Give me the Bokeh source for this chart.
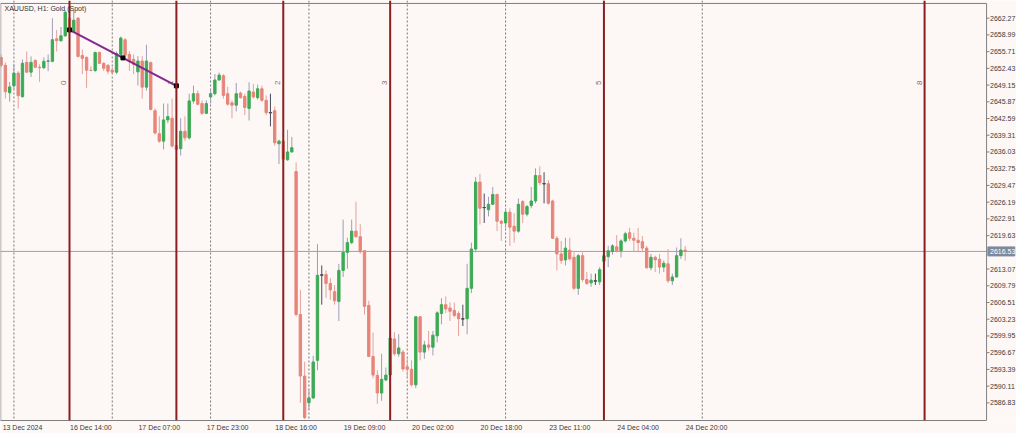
import math
from bokeh.plotting import figure
from bokeh.models import Range1d, FixedTicker, Span, Label, ColumnDataSource
from bokeh.core.properties import value
from bokeh.embed import file_html
from bokeh.resources import INLINE

# ---------------- data (XAUUSD H1, bar index 0 = 13 Dec 2024 21:00) ----------------
opens = [
    2654.58, 2653.04, 2647.65, 2649.00, 2651.50, 2646.88, 2653.61, 2651.69, 2654.00, 2652.65,
    2652.55, 2653.81, 2653.81, 2658.23, 2657.85, 2658.81, 2662.28, 2659.58, 2662.28, 2654.96,
    2654.58, 2652.07, 2652.01, 2655.54, 2653.42, 2653.04, 2652.07, 2651.69, 2655.16, 2658.04,
    2655.16, 2654.19, 2651.75, 2653.87, 2648.75, 2653.56, 2644.13, 2639.62, 2638.16, 2642.32,
    2642.65, 2637.26, 2636.68, 2640.09, 2638.80, 2646.05, 2647.46, 2645.53, 2643.61, 2646.82,
    2647.46, 2650.15, 2650.98, 2647.46, 2645.67, 2645.21, 2647.59, 2646.94, 2644.57, 2647.78,
    2646.69, 2648.42, 2646.17, 2643.74, 2644.13, 2637.64, 2638.16, 2634.50, 2636.04, 2632.19,
    2604.16, 2592.09, 2586.83, 2587.79, 2595.17, 2611.90, 2611.99, 2610.25, 2608.64, 2606.72,
    2612.81, 2616.34, 2618.26, 2620.51, 2619.42, 2616.66, 2605.94, 2595.94, 2592.22, 2588.76,
    2591.32, 2592.28, 2599.34, 2596.45, 2596.78, 2593.89, 2593.43, 2590.36, 2603.71, 2596.78,
    2598.19, 2597.74, 2599.98, 2604.35, 2606.08, 2605.44, 2604.98, 2604.35, 2603.30, 2603.33,
    2609.29, 2617.00, 2630.13, 2625.13, 2624.69, 2625.77, 2627.69, 2622.44, 2622.11, 2624.23,
    2621.47, 2620.51, 2626.29, 2623.84, 2625.52, 2626.42, 2631.42, 2629.81, 2629.81, 2626.42,
    2619.11, 2616.03, 2614.87, 2616.80, 2615.38, 2609.29, 2615.70, 2611.02, 2610.37, 2610.74,
    2610.56, 2614.60, 2615.51, 2616.53, 2617.43, 2616.66, 2618.59, 2620.19, 2619.11, 2618.72,
    2618.45, 2617.18, 2613.33, 2615.38, 2614.99, 2613.45, 2614.10, 2610.76, 2611.52, 2615.70,
    2616.80,
]
highs = [
    2655.16, 2653.61, 2649.77, 2653.23, 2651.88, 2654.19, 2655.73, 2654.77, 2654.19, 2653.23,
    2654.58, 2655.16, 2662.28, 2659.97, 2660.54, 2663.81, 2664.78, 2663.81, 2662.47, 2656.12,
    2654.77, 2652.85, 2655.73, 2655.73, 2653.61, 2653.23, 2652.65, 2655.73, 2658.68, 2658.37,
    2655.79, 2655.16, 2654.83, 2654.83, 2657.08, 2653.75, 2644.57, 2643.03, 2645.53, 2645.53,
    2646.49, 2642.65, 2642.65, 2643.03, 2647.46, 2649.05, 2648.09, 2646.17, 2646.17, 2648.42,
    2651.30, 2651.63, 2651.30, 2648.80, 2646.17, 2649.57, 2647.84, 2647.46, 2649.71, 2649.38,
    2649.25, 2649.05, 2647.13, 2647.46, 2644.95, 2638.47, 2638.47, 2640.39, 2638.99, 2633.98,
    2608.97, 2594.91, 2589.39, 2596.07, 2617.95, 2613.78, 2612.81, 2611.27, 2609.93, 2614.10,
    2622.76, 2619.22, 2622.76, 2626.29, 2621.86, 2616.80, 2606.85, 2600.63, 2593.24, 2596.45,
    2593.76, 2603.19, 2600.69, 2600.30, 2597.22, 2595.49, 2595.17, 2603.83, 2603.83, 2599.01,
    2600.94, 2600.94, 2604.79, 2607.37, 2607.68, 2606.52, 2606.52, 2604.79, 2606.08, 2614.10,
    2618.26, 2631.10, 2631.73, 2627.88, 2627.25, 2629.17, 2627.88, 2622.76, 2624.99, 2624.99,
    2624.04, 2626.92, 2626.61, 2625.65, 2629.17, 2632.83, 2633.21, 2632.06, 2630.52, 2626.67,
    2619.55, 2618.59, 2619.22, 2619.22, 2616.34, 2616.03, 2616.34, 2612.49, 2612.18, 2612.18,
    2613.45, 2616.66, 2617.62, 2617.95, 2619.74, 2618.91, 2620.38, 2621.15, 2620.19, 2621.15,
    2619.55, 2617.62, 2616.03, 2615.70, 2616.03, 2614.74, 2617.00, 2612.18, 2617.30, 2619.11,
    2617.62,
]
lows = [
    2652.65, 2646.49, 2645.92, 2648.42, 2644.57, 2646.70, 2651.50, 2650.73, 2652.46, 2649.77,
    2652.27, 2651.88, 2653.61, 2655.73, 2657.66, 2658.62, 2659.58, 2659.39, 2654.58, 2651.30,
    2648.61, 2651.88, 2651.69, 2653.23, 2651.88, 2651.30, 2651.30, 2651.30, 2654.83, 2654.52,
    2651.94, 2651.30, 2649.05, 2646.49, 2648.09, 2644.24, 2639.43, 2637.84, 2636.54, 2641.68,
    2636.87, 2635.33, 2635.33, 2638.22, 2638.47, 2645.53, 2645.21, 2643.28, 2643.47, 2645.53,
    2647.13, 2650.02, 2646.49, 2645.15, 2642.65, 2643.99, 2646.49, 2643.28, 2642.20, 2646.49,
    2646.30, 2645.86, 2643.28, 2641.05, 2637.26, 2633.66, 2633.98, 2634.31, 2635.91, 2603.77,
    2586.83, 2583.62, 2585.54, 2587.60, 2593.24, 2606.08, 2607.43, 2607.04, 2606.08, 2602.87,
    2611.52, 2613.14, 2617.95, 2619.22, 2616.08, 2604.15, 2595.88, 2591.64, 2586.64, 2587.22,
    2591.07, 2590.68, 2596.07, 2595.88, 2592.99, 2591.64, 2590.05, 2589.72, 2595.17, 2595.49,
    2597.09, 2596.13, 2598.71, 2602.23, 2604.48, 2602.87, 2603.58, 2599.98, 2601.90, 2600.30,
    2608.33, 2616.34, 2621.80, 2622.11, 2623.40, 2625.65, 2620.51, 2618.59, 2621.15, 2617.62,
    2618.26, 2620.19, 2622.11, 2623.40, 2625.00, 2625.96, 2629.50, 2625.96, 2625.71, 2618.97,
    2612.81, 2614.10, 2613.78, 2614.74, 2608.97, 2608.00, 2610.56, 2609.93, 2609.60, 2609.93,
    2609.93, 2613.45, 2613.45, 2615.89, 2616.34, 2615.38, 2618.26, 2618.59, 2616.53, 2616.34,
    2616.34, 2613.14, 2612.81, 2612.49, 2612.18, 2612.49, 2610.37, 2609.93, 2611.41, 2615.06,
    2614.74,
]
closes = [
    2653.04, 2647.84, 2648.80, 2651.50, 2647.07, 2653.42, 2651.69, 2653.61, 2652.65, 2652.55,
    2653.81, 2653.90, 2658.04, 2657.85, 2658.81, 2663.43, 2659.97, 2661.89, 2654.77, 2654.39,
    2652.07, 2652.01, 2655.54, 2653.42, 2652.46, 2651.88, 2651.69, 2655.35, 2658.37, 2655.02,
    2653.75, 2653.23, 2653.87, 2648.75, 2653.87, 2644.38, 2639.76, 2638.16, 2642.32, 2642.97,
    2637.20, 2636.54, 2640.09, 2638.80, 2646.05, 2647.46, 2645.40, 2643.61, 2645.53, 2647.46,
    2650.15, 2651.11, 2647.13, 2645.40, 2645.21, 2647.46, 2646.69, 2644.76, 2647.98, 2646.82,
    2648.42, 2646.17, 2643.74, 2643.74, 2637.84, 2638.16, 2634.62, 2636.04, 2636.87, 2604.16,
    2592.09, 2583.94, 2587.79, 2594.86, 2611.85, 2611.90, 2610.25, 2608.97, 2606.85, 2612.81,
    2616.34, 2618.26, 2620.51, 2619.42, 2616.47, 2605.75, 2595.94, 2592.28, 2588.76, 2591.45,
    2592.28, 2599.53, 2596.45, 2597.61, 2593.47, 2593.43, 2590.36, 2603.71, 2596.78, 2598.19,
    2597.74, 2600.11, 2604.48, 2606.08, 2605.25, 2604.79, 2603.96, 2603.33, 2603.30, 2609.29,
    2617.00, 2630.13, 2625.00, 2625.13, 2625.77, 2627.69, 2622.44, 2622.05, 2624.23, 2621.28,
    2620.51, 2625.77, 2623.84, 2625.32, 2626.42, 2631.42, 2630.00, 2629.81, 2625.96, 2619.11,
    2616.03, 2614.74, 2617.18, 2615.06, 2609.29, 2615.70, 2611.02, 2610.25, 2610.89, 2610.74,
    2612.95, 2615.70, 2616.66, 2617.62, 2616.66, 2618.59, 2619.99, 2619.11, 2618.72, 2618.26,
    2617.18, 2613.33, 2615.38, 2614.87, 2613.45, 2614.22, 2610.76, 2611.52, 2615.70, 2616.80,
    2616.53,
]

time_label_bars = [0, 16, 32, 48, 64, 80, 96, 112, 128, 144, 160]
time_labels = ["13 Dec 2024", "16 Dec 14:00", "17 Dec 07:00", "17 Dec 23:00", "18 Dec 16:00",
               "19 Dec 09:00", "20 Dec 02:00", "20 Dec 18:00", "23 Dec 11:00", "24 Dec 04:00",
               "24 Dec 20:00"]
day_start_bars = [3, 26, 49, 72, 95, 118, 141, 164]

price_ticks = [2586.83, 2590.11, 2593.39, 2596.67, 2599.95, 2603.23, 2606.51, 2609.79, 2613.07,
               2619.63, 2622.91, 2626.19, 2629.47, 2632.75, 2636.03, 2639.31, 2642.59, 2645.87,
               2649.15, 2652.43, 2655.71, 2658.99, 2662.27]

fib_anchor_bar = 16
fib_step_bars = 25
fib_levels = [0, 1, 2, 3, 5, 8]

trend_bars = [16, 41]
trend_prices = [2659.97, 2649.00]

title_text = "XAUUSD, H1:  Gold (Spot)"

# ---------------- layout constants ----------------
X_START, X_END = -0.14, 237.5        # whole frame (chart + price scale strip)
CHART_RIGHT = 230.5                  # right border of the chart window (bar units)
Y_BOTTOM, Y_TOP = 2583.37, 2665.74
BORDER_TOP = 2665.16

# ---------------- styling ----------------
BG = "#FDF8F6"
BULL = "#3DAA55"
BEAR = "#E7857A"
BULL_WICK = "#9D9DB8"
BEAR_WICK = "#E3A199"
DOJI = "#4A4A5C"
FIB = "#8B1E1E"
BORDER = "#7F7F7F"
TXT = "#3A3A3A"
FONT = "Liberation Sans"

n = len(closes)
idx = list(range(n))
body_colors, wick_colors, tops, bots = [], [], [], []
for o, c in zip(opens, closes):
    if c > o:
        body_colors.append(BULL); wick_colors.append(BULL_WICK)
    elif c < o:
        body_colors.append(BEAR); wick_colors.append(BEAR_WICK)
    else:
        body_colors.append(DOJI); wick_colors.append(DOJI)
    tops.append(max(o, c)); bots.append(min(o, c))

src = ColumnDataSource(dict(x=idx, o=opens, h=highs, l=lows, c=closes, top=tops, bot=bots,
                            bc=body_colors, wc=wick_colors))

p = figure(frame_width=1016, frame_height=420,
           x_range=Range1d(X_START, X_END), y_range=Range1d(Y_BOTTOM, Y_TOP),
           y_axis_location=None, output_backend="svg", toolbar_location=None,
           min_border_left=0, min_border_top=0, min_border_right=0, min_border_bottom=0,
           background_fill_color=BG, border_fill_color=BG)
p.outline_line_color = None
p.xgrid.visible = False
p.ygrid.visible = False

# day separators
for b in day_start_bars:
    p.add_layout(Span(location=b, dimension="height", line_color="#777777",
                      line_dash="2 2", line_width=1, level="underlay"))

# current price line
last_price = closes[-1]
p.segment(x0=[X_START], y0=[last_price], x1=[CHART_RIGHT], y1=[last_price],
          line_color="#97A1B4", line_width=1)

# candles
p.segment(x0="x", y0="l", x1="x", y1="h", source=src, line_color="wc", line_width=1)
p.vbar(x="x", width=0.55, top="top", bottom="bot", source=src,
       fill_color="bc", line_color="bc", line_width=1)
doji_x = [i for i in idx if opens[i] == closes[i]]
doji_y = [opens[i] for i in doji_x]
p.segment(x0=[x - 0.4 for x in doji_x], y0=doji_y, x1=[x + 0.4 for x in doji_x], y1=doji_y,
          line_color=DOJI, line_width=1)

# fibonacci time zone labels
fib_bars = [fib_anchor_bar + k * fib_step_bars for k in fib_levels]
p.text(x=[b - 1.3 for b in fib_bars], y=[2649.6] * len(fib_bars), text=[str(k) for k in fib_levels],
       angle=math.pi / 2, text_font=value(FONT), text_font_size="8px", text_color="#8E6A6A",
       text_align="center", text_baseline="middle")

# trendline with its handles
p.line(trend_bars, trend_prices, line_color="#80298E", line_width=2)
mid_bar = (trend_bars[0] + trend_bars[1]) / 2
mid_price = (trend_prices[0] + trend_prices[1]) / 2
p.scatter([trend_bars[0], mid_bar, trend_bars[1]], [trend_prices[0], mid_price, trend_prices[1]],
          marker="square", size=4, fill_color="black", line_color="black")

# fibonacci lines
for b in fib_bars:
    p.add_layout(Span(location=b, dimension="height", line_color=FIB, line_width=2))

# chart window border (left, top, right; bottom = x axis line)
p.segment(x0=[X_START + 0.05, X_START, CHART_RIGHT], y0=[Y_BOTTOM, BORDER_TOP, Y_BOTTOM],
          x1=[X_START + 0.05, CHART_RIGHT, CHART_RIGHT], y1=[BORDER_TOP, BORDER_TOP, BORDER_TOP],
          line_color=BORDER, line_width=1)

# price scale on the right of the chart window
p.segment(x0=[CHART_RIGHT] * len(price_ticks), y0=price_ticks,
          x1=[CHART_RIGHT + 0.7] * len(price_ticks), y1=price_ticks,
          line_color=BORDER, line_width=1)
p.text(x=[CHART_RIGHT + 0.8] * len(price_ticks), y=price_ticks,
       text=[f"{t:.2f}" for t in price_ticks], text_font=value(FONT), text_font_size="7px",
       text_color=TXT, text_align="left", text_baseline="middle")

# current price tag
p.rect(x=[CHART_RIGHT + 3.45], y=[last_price], width=6.3, height=9, height_units="screen",
       fill_color="#7D899E", line_color="#7D899E")
p.text(x=[CHART_RIGHT + 0.8], y=[last_price], text=[f"{last_price:.2f}"], text_font=value(FONT),
       text_font_size="7px", text_color="white", text_align="left", text_baseline="middle")

# time axis (labels centred a few bars right of their bar, as MT5 draws them)
xa = p.xaxis[0]
label_centres = [b + 5 for b in time_label_bars]
xa.ticker = FixedTicker(ticks=label_centres)
xa.major_label_overrides = {c: t for c, t in zip(label_centres, time_labels)}
xa.bounds = (X_START, CHART_RIGHT)
xa.minor_tick_line_color = None
xa.major_tick_in = 0
xa.major_tick_out = 0
xa.major_label_standoff = 3
xa.axis_line_color = BORDER
xa.major_label_text_font = FONT
xa.major_label_text_font_size = "7px"
xa.major_label_text_color = TXT

# title
p.add_layout(Label(x=0.8, y=2664.2, text=title_text, text_font=FONT, text_font_size="7px",
                   text_color="#303030", text_baseline="middle"))

open("out.html", "w").write(file_html(p, INLINE))
